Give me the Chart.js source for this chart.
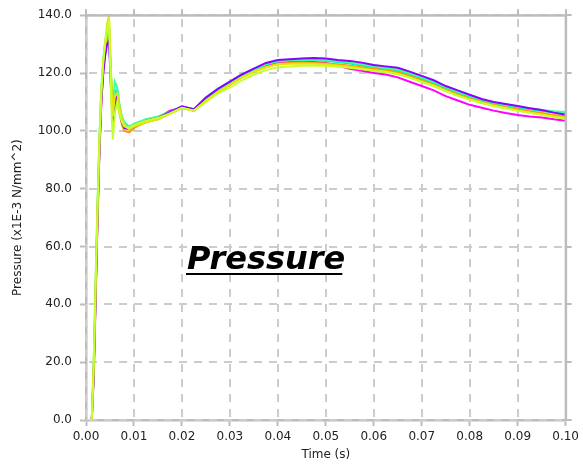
<!DOCTYPE html>
<html>
<head>
<meta charset="utf-8">
<script src="https://cdn.jsdelivr.net/npm/chart.js@4"></script>
<style>
  html, body { margin: 0; padding: 0; background: #fff; }
  #wrap { width: 583px; height: 465px; }
</style>
</head>
<body>
<div id="wrap"><canvas id="chart" width="583" height="465"></canvas></div>
<script>
// time samples (s)
var times = [0, 0.0012, 0.0016, 0.002, 0.0024, 0.0028, 0.0032, 0.0036, 0.004, 0.0044,
  0.0048, 0.0052, 0.0056, 0.006, 0.0065, 0.007, 0.0075, 0.008, 0.009, 0.010,
  0.0125, 0.015, 0.0175, 0.020, 0.0225, 0.025, 0.0275, 0.030, 0.0325, 0.035,
  0.0375, 0.040, 0.0425, 0.045, 0.0475, 0.050, 0.0525, 0.055, 0.0575, 0.060,
  0.0625, 0.065, 0.0675, 0.070, 0.0725, 0.075, 0.0775, 0.080, 0.0825, 0.085,
  0.0875, 0.090, 0.0925, 0.095, 0.0975, 0.100];

// pressure (x1E-3 N/mm^2), one array per run
var ygreen = [0,0,18,46,73,96,113,124,130,135, 138,112,97,106,110,106,103,101.5,101,102,
  103.5,104.5,106,108,107,110,113,115,117.5,119.5, 121,122,122.3,122.5,122.6,122.5,122.2,121.8,121.3,120.8,
  120.3,119.6,118.4,117,115.5,113.8,112.2,110.9,109.7,108.7, 107.8,107,106.3,105.5,104.8,104.2];
var yellow = [0,0,19,47,74,97,114,124,131,137, 140,121,105,112,113,108,104,102,100.5,101.5,
  103,104,106,108,107,110.5,113.5,116,118.5,120.5, 122,123,123.2,123.3,123.2,123,122.6,122.2,121.6,121,
  120.5,119.8,118.5,117,115.6,113.8,112.2,110.8,109.6,108.6, 107.8,107,106.3,105.7,105,104.5];
var mint = [0,0,20,48,75,98,115,125,131,134, 136,120,108,117,115,109,105,103,101.5,102.5,
  104,105,106.5,108.5,107.5,111,114,116.5,119,121, 123,124.2,124.5,124.6,124.7,124.5,124.2,123.6,123,122.3,
  121.8,121.2,120,118.5,117,115.2,113.5,112.2,110.8,109.8, 109,108.4,107.8,107.2,106.8,106.5];
var orange = [0,0,14,40,68,92,110,121,128,133, 137,119,107,113,111,106,102,100,99.5,101,
  103,104,106,108,107,110.5,113.5,116,118.5,120.5, 122,123.2,123.5,123.6,123.5,123.3,123,122.5,122,121.5,
  121,120.3,119,117.5,116,114.2,112.6,111.2,110,109, 108.2,107.5,106.8,106.2,105.5,105];
var purple = [0,0,15,42,70,93,110,120,126,130, 131,115,102,108,112,107,103,101,100.5,101.5,
  103.5,104.5,106.5,108.5,107.5,111.5,114.5,117,119.5,121.5, 123.5,124.5,124.8,125,125.2,125,124.5,124.2,123.6,122.8,
  122.3,121.8,120.5,119,117.5,115.5,114,112.5,111,110, 109.3,108.6,107.8,107.2,106.3,105.6];
var teal = [0,0,16,43,72,96,113,123,129,133, 134,116,106,114,114,108,104,102,101,102,
  103.5,104.5,106,108,107.5,111.5,114.5,117,119.5,121.5, 123,124,124.3,124.5,124.4,124.2,123.8,123.3,122.6,122,
  121.5,120.8,119.5,118,116.5,114.8,113.2,111.8,110.5,109.5, 108.8,108,107.5,106.9,106.4,106];
var magenta = [0,0,17,44,71,94,111,121,127,131, 133,117,104,110,113,108,104,102,101,102,
  103,104.5,107,108,107,111,114,116.5,119,121, 122.5,123.5,123.8,124,123.8,123.5,122.5,121.5,120.8,120,
  119.5,118.5,117,115.5,114,112,110.5,109,108,107, 106.2,105.5,105,104.6,104,103.5];

var xTicksStep = 0.01;
var yTicksStep = 20;

function pts(vals) {
  return times.map(function (t, i) { return {x: t, y: vals[i]}; });
}
function line(data, color) {
  return {data: pts(data), borderColor: color, backgroundColor: color,
          borderWidth: 2, pointRadius: 0, tension: 0, fill: false};
}

var frameColor = '#bcbcbc';
var gridColor = '#cccccc';
var dashOn = 8, dashOff = 7;

// dashed grid under the curves, dashes drawn as short rects
var gridPlugin = {
  id: 'dashgrid',
  beforeDatasetsDraw: function (chart) {
    var ctx = chart.ctx, a = chart.chartArea;
    var xs = chart.scales.x, ys = chart.scales.y;
    ctx.save();
    ctx.fillStyle = gridColor;
    xs.ticks.forEach(function (t) {
      var px = Math.round(xs.getPixelForValue(t.value));
      for (var y = a.bottom - 3; y > a.top; y -= dashOn + dashOff) {
        var h = Math.min(dashOn, y - a.top);
        ctx.fillRect(px - 1, y - h, 2, h);
      }
    });
    ys.ticks.forEach(function (t) {
      var py = Math.round(ys.getPixelForValue(t.value));
      for (var x = a.left + 3; x < a.right; x += dashOn + dashOff) {
        var w = Math.min(dashOn, a.right - x);
        ctx.fillRect(x, py - 1, w, 2);
      }
    });
    ctx.restore();
  }
};

var framePlugin = {
  id: 'frame',
  afterDraw: function (chart) {
    var ctx = chart.ctx, a = chart.chartArea;
    var xs = chart.scales.x, ys = chart.scales.y;
    ctx.save();
    ctx.fillStyle = frameColor;
    ctx.fillRect(a.left, a.top - 1, a.right - a.left + 1, 2.5);
    ctx.fillRect(a.right - 1, a.top - 1, 2.5, a.bottom - a.top + 2);
    xs.ticks.forEach(function (t) {
      var px = Math.round(xs.getPixelForValue(t.value));
      ctx.fillRect(px - 1, a.top - 6, 2, 6);
    });
    ys.ticks.forEach(function (t) {
      var py = Math.round(ys.getPixelForValue(t.value));
      ctx.fillRect(a.right, py - 1, 6, 2);
    });

    // caption inside the plot
    ctx.fillStyle = '#000';
    ctx.font = 'italic bold 32px "DejaVu Sans"';
    ctx.textBaseline = 'alphabetic';
    ctx.fillText('Pressure', 187, 269);
    var w = ctx.measureText('Pressure').width;
    ctx.fillRect(186, 273, w - 2, 2);
    ctx.restore();
  }
};

new Chart(document.getElementById('chart').getContext('2d'), {
  type: 'line',
  data: {
    datasets: [
      line(ygreen, '#c4ff2e'),
      line(yellow, '#e6e600'),
      line(purple, '#8c00ff'),
      line(mint, '#3dff9e'),
      line(orange, '#ff9a00'),
      line(teal, '#00f0c8'),
      line(magenta, '#ff00ff')
    ]
  },
  options: {
    responsive: false,
    animation: false,
    layout: {padding: {top: 14, right: 16, left: 0, bottom: 0}},
    plugins: {legend: {display: false}, tooltip: {enabled: false}},
    scales: {
      x: {
        type: 'linear', min: 0, max: 0.1,
        afterFit: function (s) { s.height = 45; },
        ticks: {
          stepSize: xTicksStep, color: '#222', padding: 4, maxRotation: 0,
          font: {family: 'DejaVu Sans', size: 12},
          callback: function (v) { return v.toFixed(2); }
        },
        grid: {drawOnChartArea: false, tickLength: 6, tickColor: frameColor, tickWidth: 2},
        border: {color: frameColor, width: 2.5},
        title: {display: true, text: 'Time (s)', color: '#222',
                font: {family: 'DejaVu Sans', size: 12}, padding: {top: 0, bottom: 3}}
      },
      y: {
        min: 0, max: 140,
        afterFit: function (s) { s.width = 86; },
        ticks: {
          stepSize: yTicksStep, color: '#222', padding: 8,
          font: {family: 'DejaVu Sans', size: 12},
          callback: function (v) { return v.toFixed(1); }
        },
        grid: {drawOnChartArea: false, tickLength: 6, tickColor: frameColor, tickWidth: 2},
        border: {color: frameColor, width: 2.5},
        title: {display: true, text: 'Pressure (x1E-3 N/mm^2)', color: '#222',
                font: {family: 'DejaVu Sans', size: 12}, padding: {top: 11, bottom: 0}}
      }
    }
  },
  plugins: [gridPlugin, framePlugin]
});
</script>
</body>
</html>
